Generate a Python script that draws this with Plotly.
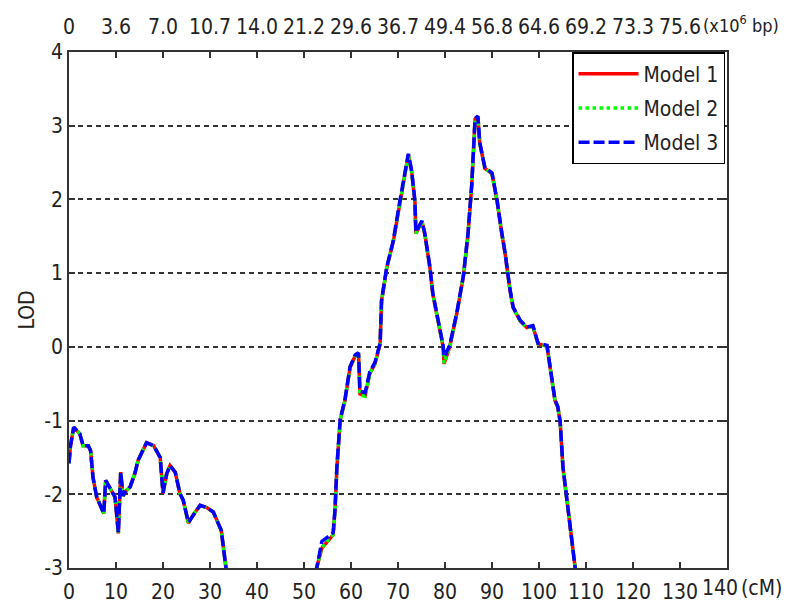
import plotly.graph_objects as go

# Genetic position (cM) and LOD scores
cm = [0, 0.3, 1.0, 2.3, 3.0, 4.1, 4.6, 5.1, 5.9, 7.4, 7.8, 8.7, 9.8, 10.5, 11.0,
      11.5, 12.2, 13.0, 14.0, 14.7, 16.5, 18.0, 19.4, 20.0, 20.8, 21.5, 22.6, 23.6,
      24.3, 25.4, 26.4, 27.9, 29.3, 30.7, 32.4, 33.4, 35.0, 40.0, 45.0, 50.0,
      52.7, 53.8, 56.2, 56.6, 57.0, 57.7, 58.7, 59.8, 60.9, 61.6, 61.9, 63.0,
      64.0, 65.1, 66.2, 66.5, 67.6, 69.0, 70.4, 71.5, 72.2, 72.9, 73.6, 73.8,
      75.1, 75.7, 76.8, 77.4, 78.2, 79.6, 79.8, 81.0, 82.5, 83.9, 84.9, 85.7,
      86.4, 87.0, 87.4, 88.5, 90.0, 91.1, 92.1, 92.8, 93.8, 94.5, 96.0, 97.4,
      98.7, 99.8, 101.7, 102.8, 103.4, 104.0, 104.5, 105.1, 105.9, 107.0, 107.7,
      110.0]

lod_model1 = [-1.58, -1.35, -1.09, -1.18, -1.34, -1.34, -1.41, -1.77, -2.04, -2.26,
              -1.81, -1.92, -2.04, -2.53, -1.70, -2.02, -1.95, -1.90, -1.72, -1.54,
              -1.30, -1.34, -1.50, -1.99, -1.72, -1.61, -1.70, -1.99, -2.08, -2.39,
              -2.28, -2.15, -2.18, -2.24, -2.49, -3.00, -3.30, -3.80, -3.90, -3.40,
              -3.00, -2.73, -2.55, -2.22, -1.64, -1.00, -0.73, -0.28, -0.12, -0.09,
              -0.64, -0.66, -0.36, -0.23, 0.04, 0.62, 1.07, 1.43, 1.97, 2.34,
              2.61, 2.38, 1.97, 1.54, 1.70, 1.53, 1.07, 0.72, 0.45, 0.00,
              -0.23, 0.00, 0.45, 0.95, 1.53, 2.20, 3.09, 3.12, 2.76, 2.42,
              2.35, 1.97, 1.53, 1.26, 0.78, 0.53, 0.35, 0.26, 0.28, 0.04,
              0.01, -0.46, -0.73, -0.82, -1.02, -1.64, -2.08, -2.62, -3.00, -3.60]

lod_model2 = [-1.58, -1.35, -1.09, -1.18, -1.34, -1.34, -1.41, -1.77, -2.04, -2.26,
              -1.81, -1.92, -2.04, -2.54, -1.70, -2.02, -1.95, -1.90, -1.72, -1.54,
              -1.30, -1.34, -1.50, -1.99, -1.72, -1.61, -1.70, -1.99, -2.08, -2.39,
              -2.28, -2.15, -2.18, -2.24, -2.49, -3.00, -3.30, -3.80, -3.90, -3.40,
              -3.00, -2.72, -2.55, -2.22, -1.64, -1.00, -0.73, -0.28, -0.12, -0.09,
              -0.65, -0.67, -0.36, -0.23, 0.04, 0.62, 1.07, 1.43, 1.97, 2.34,
              2.61, 2.38, 1.97, 1.54, 1.70, 1.53, 1.07, 0.72, 0.45, 0.00,
              -0.22, 0.00, 0.45, 0.95, 1.53, 2.20, 3.09, 3.12, 2.76, 2.42,
              2.35, 1.97, 1.53, 1.26, 0.78, 0.53, 0.35, 0.26, 0.28, 0.04,
              0.01, -0.46, -0.73, -0.82, -1.02, -1.64, -2.08, -2.62, -3.00, -3.60]

lod_model3 = [-1.58, -1.35, -1.09, -1.18, -1.34, -1.34, -1.41, -1.77, -2.04, -2.26,
              -1.81, -1.92, -2.04, -2.52, -1.70, -2.02, -1.95, -1.90, -1.72, -1.54,
              -1.30, -1.34, -1.50, -1.98, -1.72, -1.61, -1.70, -1.99, -2.08, -2.38,
              -2.28, -2.15, -2.18, -2.24, -2.49, -3.00, -3.30, -3.80, -3.90, -3.40,
              -3.00, -2.64, -2.52, -2.20, -1.62, -0.98, -0.72, -0.27, -0.11, -0.08,
              -0.60, -0.62, -0.34, -0.21, 0.05, 0.63, 1.08, 1.44, 1.98, 2.35,
              2.62, 2.39, 1.98, 1.56, 1.71, 1.54, 1.08, 0.73, 0.46, 0.02,
              -0.14, 0.02, 0.46, 0.96, 1.54, 2.21, 3.10, 3.13, 2.77, 2.43,
              2.36, 1.98, 1.54, 1.27, 0.79, 0.54, 0.36, 0.27, 0.29, 0.05,
              0.02, -0.45, -0.72, -0.81, -1.01, -1.63, -2.07, -2.61, -3.00, -3.60]

series_names = ["Model 1", "Model 2", "Model 3"]

# Axis ticks
cm_ticks = [0, 10, 20, 30, 40, 50, 60, 70, 80, 90, 100, 110, 120, 130, 140]
cm_ticktext = ["0", "10", "20", "30", "40", "50", "60", "70", "80", "90",
               "100", "110", "120", "130", ""]
bp_ticks = [0, 10, 20, 30, 40, 50, 60, 70, 80, 90, 100, 110, 120, 130, 140]
bp_ticktext = ["0", "3.6", "7.0", "10.7", "14.0", "21.2", "29.6", "36.7",
               "49.4", "56.8", "64.6", "69.2", "73.3", "75.6", ""]
lod_ticks = [-3, -2, -1, 0, 1, 2, 3, 4]
lod_ticktext = ["-3", "-2", "-1", "0", "1", "2", "3", "4"]

FONT = "Liberation Sans Narrow, DejaVu Sans Condensed, Arial Narrow, Liberation Sans, Arial, sans-serif"
FS = 21
TXT = "#222222"
AX = "#333333"

fig = go.Figure()
fig.add_trace(go.Scatter(x=cm, y=lod_model1, mode="lines", name=series_names[0],
                         legendgroup="g1",
                         line=dict(color="#ff0000", width=3.5, dash="solid")))
fig.add_trace(go.Scatter(x=cm, y=lod_model2, mode="lines", name=series_names[1],
                         legendgroup="g2",
                         line=dict(color="#00ff00", width=3.5, dash="dot")))
fig.add_trace(go.Scatter(x=cm, y=lod_model3, mode="lines", name=series_names[2],
                         legendgroup="g3", xaxis="x2",
                         line=dict(color="#0000ff", width=3.5, dash="11px,4px")))

fig.update_layout(
    width=788, height=608,
    margin=dict(l=69, r=61, t=52, b=40, autoexpand=False),
    paper_bgcolor="white", plot_bgcolor="white",
    font=dict(family=FONT, size=FS, color=TXT),
    showlegend=True,
    legend=dict(x=0.997, y=1, xanchor="right", yanchor="top",
                bgcolor="white", bordercolor="black", borderwidth=1.5,
                font=dict(family=FONT, size=FS, color=TXT),
                tracegroupgap=4, itemwidth=60),
    xaxis=dict(range=[0, 140], tickmode="array", tickvals=cm_ticks,
               ticktext=cm_ticktext, ticks="inside", ticklen=6, tickwidth=1.5,
               tickcolor=AX, showline=True, linecolor=AX, linewidth=1.5,
               mirror=True, showgrid=False, zeroline=False, ticklabelstandoff=4,
               automargin=False,
               tickfont=dict(family=FONT, size=FS, color=TXT)),
    xaxis2=dict(range=[0, 140], overlaying="x", side="top", anchor="y",
                tickmode="array", tickvals=bp_ticks, ticktext=bp_ticktext,
                ticks="inside", ticklen=6, tickwidth=1.5, tickcolor=AX,
                showline=False, showgrid=False, zeroline=False,
                ticklabelstandoff=13, automargin=False,
                tickfont=dict(family=FONT, size=FS, color=TXT)),
    yaxis=dict(range=[-3, 4], tickmode="array", tickvals=lod_ticks,
               ticktext=lod_ticktext,
               ticks="inside", ticklen=6, tickwidth=1.5, tickcolor=AX,
               showline=True, linecolor=AX, linewidth=1.5, mirror="ticks",
               showgrid=True, gridcolor=AX, gridwidth=1.5, griddash="5px,4px",
               zeroline=False, ticklabelstandoff=0, automargin=False,
               title=dict(text="LOD", font=dict(family=FONT, size=FS, color=TXT),
                          standoff=4),
               tickfont=dict(family=FONT, size=FS, color=TXT)),
)

fig.add_annotation(text="140", xref="paper", yref="paper", x=(700 - 69) / 658, y=0,
                   xanchor="left", yanchor="middle", yshift=-20, showarrow=False,
                   font=dict(family=FONT, size=FS, color=TXT))
fig.add_annotation(text="(cM)", xref="paper", yref="paper", x=(739 - 69) / 658, y=0,
                   xanchor="left", yanchor="middle", yshift=-20, showarrow=False,
                   font=dict(family=FONT, size=FS, color=TXT))
fig.add_annotation(text="(x10<sup>6</sup> bp)", xref="paper", yref="paper",
                   x=(701 - 69) / 658, y=1,
                   xanchor="left", yanchor="middle", yshift=28, showarrow=False,
                   font=dict(family=FONT, size=18, color=TXT))

fig.write_html("out.html")
